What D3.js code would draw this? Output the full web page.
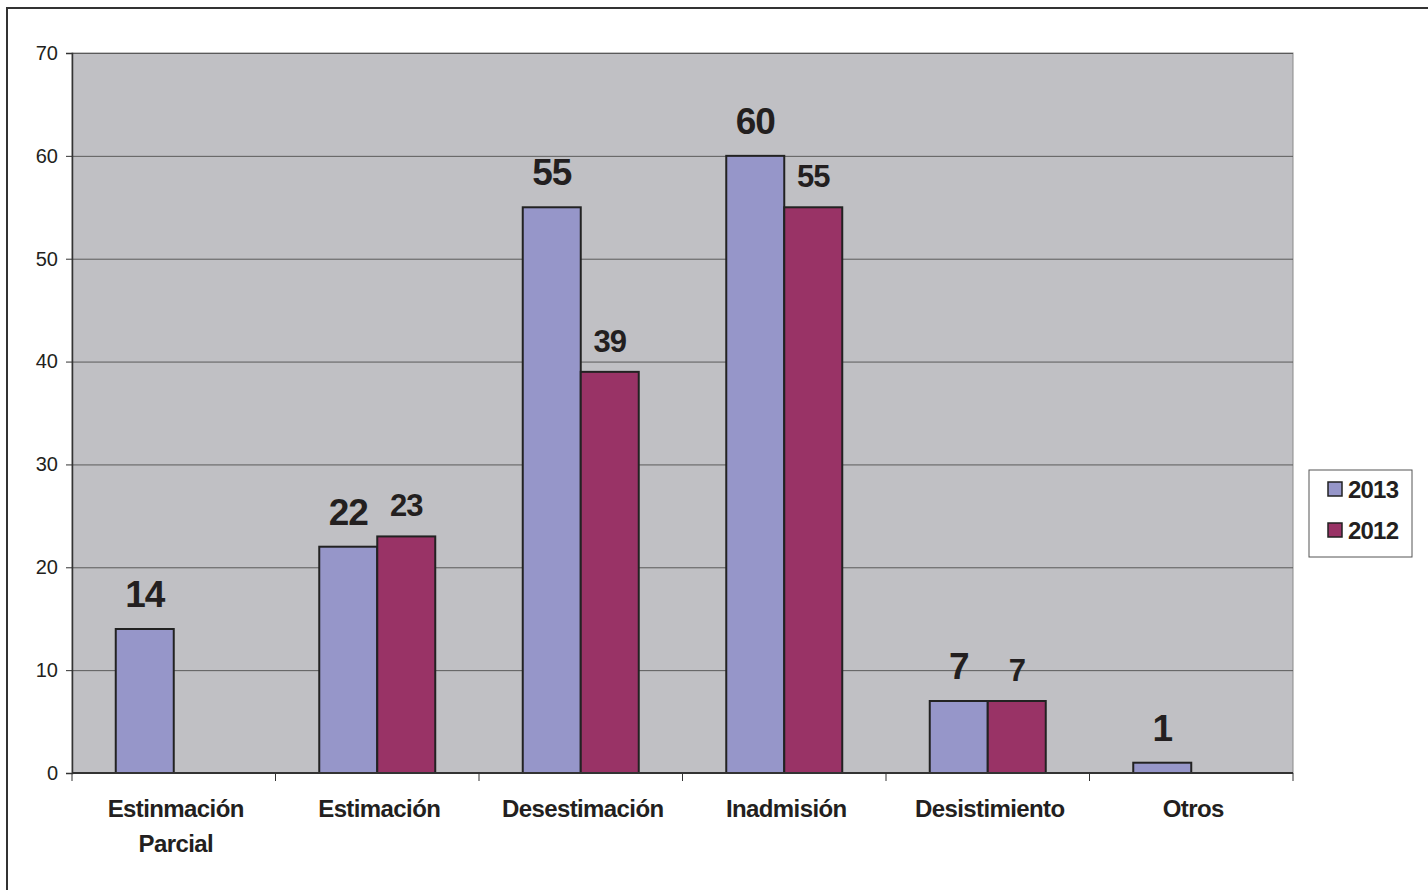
<!DOCTYPE html>
<html>
<head>
<meta charset="utf-8">
<script src="https://cdn.jsdelivr.net/npm/d3@7"></script>
<style>
  body { margin: 0; background: #fff; }
  svg { display: block; font-family: "Liberation Sans", Arial, sans-serif; }
</style>
</head>
<body>
<div id="chart"></div>
<script>
var categories = [["Estinmación", "Parcial"], ["Estimación"], ["Desestimación"], ["Inadmisión"], ["Desistimiento"], ["Otros"]];
var seriesNames = ["2013", "2012"];
var values2013 = [14, 22, 55, 60, 7, 1];
var values2012 = [null, 23, 39, 55, 7, null];
var yTicks = [0, 10, 20, 30, 40, 50, 60, 70];

var colors = { "2013": "#9696c9", "2012": "#993366" };

var W = 1428, H = 890;
var margin = { top: 53, right: 135, bottom: 117, left: 72 };
var width = W - margin.left - margin.right;   // 1221
var height = H - margin.top - margin.bottom;  // 720

var svg = d3.select("#chart").append("svg")
    .attr("width", W)
    .attr("height", H);

// outer frame
svg.append("rect")
    .attr("x", 7).attr("y", 8)
    .attr("width", W + 20).attr("height", H + 20)
    .attr("fill", "none")
    .attr("stroke", "#333")
    .attr("stroke-width", 2);

var main = svg.append("g")
    .attr("transform", "translate(" + margin.left + "," + margin.top + ")");

var x = d3.scaleBand()
    .domain(d3.range(categories.length))
    .range([0, width])
    .paddingInner(0)
    .paddingOuter(0);

var y = d3.scaleLinear()
    .domain([0, 70])
    .range([height, 0]);

// plot background
main.append("rect")
    .attr("width", width).attr("height", height)
    .attr("fill", "#c0c0c4")
    .attr("stroke", "#8a8a8a")
    .attr("stroke-width", 1);

// gridlines
main.selectAll("line.grid")
    .data(yTicks.filter(function(d) { return d > 0; }))
    .enter().append("line")
    .attr("class", "grid")
    .attr("x1", 0).attr("x2", width)
    .attr("y1", function(d) { return y(d) + 0.5; })
    .attr("y2", function(d) { return y(d) + 0.5; })
    .attr("stroke", "#5a5a5a")
    .attr("stroke-width", 1);

// bars
var barW = 58;
var data = [];
categories.forEach(function(c, i) {
    if (values2013[i] != null) data.push({ i: i, s: "2013", v: values2013[i], off: -barW });
    if (values2012[i] != null) data.push({ i: i, s: "2012", v: values2012[i], off: 0 });
});

main.selectAll("rect.bar")
    .data(data)
    .enter().append("rect")
    .attr("class", "bar")
    .attr("x", function(d) { return x(d.i) + x.bandwidth() / 2 + d.off; })
    .attr("y", function(d) { return y(d.v); })
    .attr("width", barW)
    .attr("height", function(d) { return height - y(d.v); })
    .attr("fill", function(d) { return colors[d.s]; })
    .attr("stroke", "#222")
    .attr("stroke-width", 2);

// value labels
main.selectAll("text.val")
    .data(data)
    .enter().append("text")
    .attr("class", "val")
    .attr("x", function(d) { return x(d.i) + x.bandwidth() / 2 + d.off + barW / 2; })
    .attr("y", function(d) { return y(d.v) - (d.s === "2013" ? 22 : 20); })
    .attr("text-anchor", "middle")
    .attr("font-weight", "bold")
    .attr("font-size", function(d) { return d.s === "2013" ? "37px" : "31px"; })
    .attr("letter-spacing", "-1px")
    .attr("fill", "#231f20")
    .text(function(d) { return d.v; });

// y axis
var yAxis = d3.axisLeft(y).tickValues(yTicks).tickSize(6).tickPadding(8);
var gy = main.append("g").call(yAxis);
gy.select(".domain").attr("stroke", "#333").attr("stroke-width", 1.5);
gy.selectAll(".tick line").attr("stroke", "#333");
gy.selectAll(".tick text")
    .attr("font-size", "20px")
    .attr("fill", "#231f20")
    .attr("font-family", "Liberation Sans, Arial, sans-serif");

// x axis
main.append("line")
    .attr("x1", 0).attr("x2", width)
    .attr("y1", height).attr("y2", height)
    .attr("stroke", "#333").attr("stroke-width", 2);

main.selectAll("line.xtick")
    .data(d3.range(categories.length + 1))
    .enter().append("line")
    .attr("class", "xtick")
    .attr("x1", function(d) { return d < categories.length ? x(d) : width; })
    .attr("x2", function(d) { return d < categories.length ? x(d) : width; })
    .attr("y1", height).attr("y2", height + 8)
    .attr("stroke", "#333").attr("stroke-width", 1);

var catLabels = main.selectAll("text.cat")
    .data(categories)
    .enter().append("text")
    .attr("class", "cat")
    .attr("text-anchor", "middle")
    .attr("font-weight", "bold")
    .attr("font-size", "24px")
    .attr("letter-spacing", "-0.6px")
    .attr("fill", "#231f20");

catLabels.selectAll("tspan")
    .data(function(d, i) { return d.map(function(t) { return { t: t, i: i }; }); })
    .enter().append("tspan")
    .attr("x", function(d) { return x(d.i) + x.bandwidth() / 2 + 2; })
    .attr("y", function(d, j) { return height + 44 + j * 35; })
    .text(function(d) { return d.t; });

// legend
var legend = svg.append("g").attr("transform", "translate(1309,470)");
legend.append("rect")
    .attr("width", 103).attr("height", 87)
    .attr("fill", "#fff")
    .attr("stroke", "#555").attr("stroke-width", 1);

var items = legend.selectAll("g.item")
    .data(seriesNames)
    .enter().append("g")
    .attr("class", "item")
    .attr("transform", function(d, i) { return "translate(19," + (12 + i * 41) + ")"; });

items.append("rect")
    .attr("width", 14).attr("height", 14)
    .attr("fill", function(d) { return colors[d]; })
    .attr("stroke", "#222").attr("stroke-width", 1.5);

items.append("text")
    .attr("x", 20).attr("y", 16)
    .attr("font-weight", "bold")
    .attr("font-size", "24px")
    .attr("letter-spacing", "-0.8px")
    .attr("fill", "#231f20")
    .text(function(d) { return d; });
</script>
</body>
</html>
